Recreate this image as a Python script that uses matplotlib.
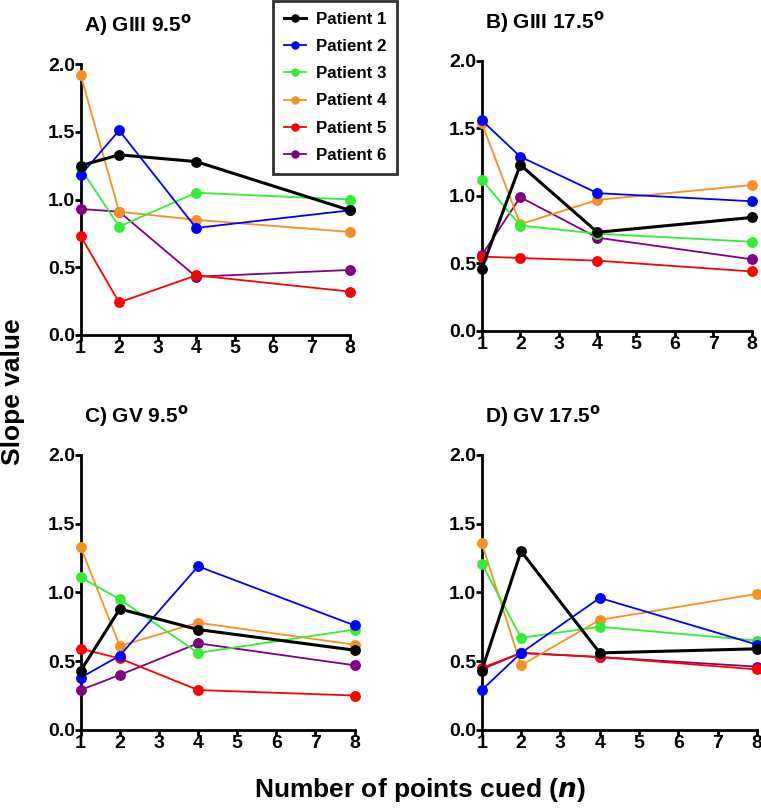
import numpy as np
import matplotlib.pyplot as plt

plt.rcParams["font.family"] = ["Liberation Sans", "DejaVu Sans"]
plt.rcParams["font.weight"] = "bold"

n_cued = [1, 2, 4, 8]
patients = ["Patient 1", "Patient 2", "Patient 3", "Patient 4", "Patient 5", "Patient 6"]
colors = ["#000000", "#0000ff", "#33ee33", "#f7901e", "#ff0000", "#800080"]

titles = [r"A) GIII 9.5$^{\mathbf{o}}$", r"B) GIII 17.5$^{\mathbf{o}}$",
          r"C) GV 9.5$^{\mathbf{o}}$", r"D) GV 17.5$^{\mathbf{o}}$"]

# slope values per panel, one row per patient
slopes_a = [[1.25, 1.33, 1.28, 0.92],
            [1.18, 1.51, 0.79, 0.92],
            [1.23, 0.80, 1.05, 1.00],
            [1.92, 0.91, 0.85, 0.76],
            [0.73, 0.24, 0.44, 0.32],
            [0.93, 0.91, 0.43, 0.48]]
slopes_b = [[0.46, 1.23, 0.73, 0.84],
            [1.56, 1.29, 1.02, 0.96],
            [1.12, 0.78, 0.72, 0.66],
            [1.54, 0.79, 0.97, 1.08],
            [0.55, 0.54, 0.52, 0.44],
            [0.56, 0.99, 0.69, 0.53]]
slopes_c = [[0.43, 0.88, 0.73, 0.58],
            [0.38, 0.54, 1.19, 0.76],
            [1.11, 0.95, 0.56, 0.73],
            [1.33, 0.61, 0.78, 0.62],
            [0.59, 0.52, 0.29, 0.25],
            [0.29, 0.40, 0.63, 0.47]]
slopes_d = [[0.43, 1.30, 0.56, 0.59],
            [0.29, 0.56, 0.96, 0.62],
            [1.21, 0.67, 0.75, 0.65],
            [1.36, 0.47, 0.80, 0.99],
            [0.45, 0.56, 0.53, 0.44],
            [0.44, 0.56, 0.53, 0.46]]

fig = plt.figure(figsize=(7.61, 8.11), dpi=100)
rects = [[0.106, 0.587, 0.354, 0.334],
         [0.633, 0.592, 0.355, 0.333],
         [0.106, 0.100, 0.360, 0.339],
         [0.633, 0.100, 0.362, 0.339]]
panels = [slopes_a, slopes_b, slopes_c, slopes_d]
order = [5, 4, 3, 2, 1, 0]

for rect, data, title in zip(rects, panels, titles):
    ax = fig.add_axes(rect)
    for i in order:
        lw = 2.2 if i == 0 else 1.3
        ax.plot(n_cued, data[i], color=colors[i], lw=lw, marker="o", ms=6.8,
                clip_on=False, label=patients[i], zorder=3 + (6 - i))
    ax.set_xlim(1, 8)
    ax.set_ylim(0, 2.0)
    ax.set_xticks(range(1, 9))
    ax.set_yticks([0, 0.5, 1.0, 1.5, 2.0])
    ax.set_yticklabels(["0.0", "0.5", "1.0", "1.5", "2.0"])
    for s in ["top", "right"]:
        ax.spines[s].set_visible(False)
    for s in ["left", "bottom"]:
        ax.spines[s].set_linewidth(2)
    ax.tick_params(width=2, length=4, labelsize=14, pad=0)
    for lab in ax.get_xticklabels() + ax.get_yticklabels():
        lab.set_fontweight("bold")
    ax.text(0.012, 1.12, title, transform=ax.transAxes, fontsize=15,
            fontweight="bold", va="baseline")
    if title.startswith("A"):
        h, l = ax.get_legend_handles_labels()

leg = fig.legend(h[::-1], l[::-1], loc="upper left",
                 bbox_to_anchor=(0.357, 1.0), borderaxespad=0.05, fontsize=12.2,
                 frameon=True, fancybox=False, edgecolor="black",
                 handlelength=1.3, handletextpad=0.6, markerscale=0.75,
                 labelspacing=0.72, borderpad=0.65)
leg.get_frame().set_linewidth(2)
for t in leg.get_texts():
    t.set_fontweight("bold")

fig.text(0.017, 0.517, "Slope value", rotation=90, ha="center", va="center",
         fontsize=19, fontweight="bold")
fig.text(0.552, 0.026, r"Number of points cued ($\boldsymbol{n}$)", ha="center",
         va="center", fontsize=19, fontweight="bold")

fig.savefig("out.png", dpi=100)
